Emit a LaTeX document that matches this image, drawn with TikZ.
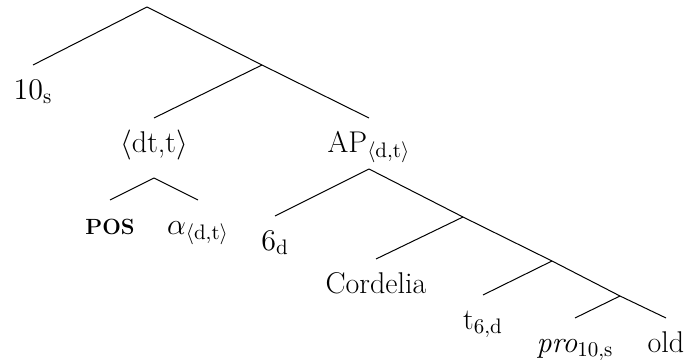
\RequirePackage{fix-cm}
\documentclass[tikz,border=0pt]{standalone}
\usepackage{amsmath}
\usetikzlibrary{positioning}

\begin{document}
\begin{tikzpicture}[
    x=0.5pt, y=-0.5pt,
    leaf/.style={anchor=north, inner sep=0pt, text height=17pt, text depth=5pt, font=\fontsize{15}{18}\selectfont},
    branch/.style={line width=0.5pt}
]
    \useasboundingbox (0,0) rectangle (690,362);

    % Branch points
    \coordinate (root) at (147,7);
    \coordinate (mid) at (262,65);
    \coordinate (dttfoot) at (154,178);
    \coordinate (apfoot) at (369,169);
    \coordinate (cordbar) at (463,217);
    \coordinate (tbar) at (552,261);
    \coordinate (probar) at (620,296);

    % Labels
    \node[leaf] (ten) at (33,65) {$10_{\mathrm{s}}$};
    \node[leaf] (dtt) at (154,118) {$\langle$dt,t$\rangle$};
    \node[leaf] (ap) at (369,118) {AP$_{\langle \mathrm{d,t}\rangle}$};
    \node[leaf, font=\fontsize{11}{13}\selectfont\bfseries] (pos) at (110,200) {POS};
    \node[leaf] (alpha) at (198,200) {$\alpha_{\langle \mathrm{d,t}\rangle}$};
    \node[leaf] (six) at (275,216) {$6_{\mathrm{d}}$};
    \node[leaf] (cordelia) at (376,259) {Cordelia};
    \node[leaf] (trace) at (483,295) {t$_{6,\mathrm{d}}$};
    \node[leaf] (pro) at (575,318) {\textit{pro}$_{10,\mathrm{s}}$};
    \node[leaf] (old) at (666,318) {old};

    % Edges
    \draw[branch] (root) -- (ten.north);
    \draw[branch] (root) -- (mid);
    \draw[branch] (mid) -- (dtt.north);
    \draw[branch] (mid) -- (ap.north);
    \draw[branch] (dttfoot) -- (pos.north);
    \draw[branch] (dttfoot) -- (alpha.north);
    \draw[branch] (apfoot) -- (six.north);
    \draw[branch] (apfoot) -- (cordbar);
    \draw[branch] (cordbar) -- (cordelia.north);
    \draw[branch] (cordbar) -- (tbar);
    \draw[branch] (tbar) -- (trace.north);
    \draw[branch] (tbar) -- (probar);
    \draw[branch] (probar) -- (pro.north);
    \draw[branch] (probar) -- (old.north);
\end{tikzpicture}
\end{document}
